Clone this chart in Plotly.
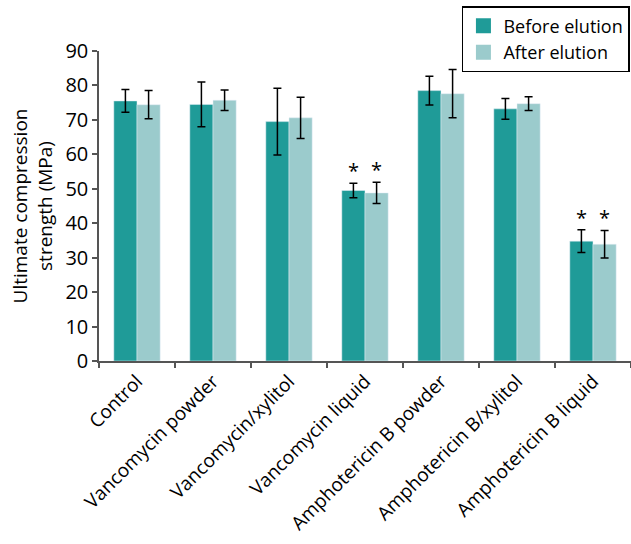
import plotly.graph_objects as go

categories = ["Control", "Vancomycin powder", "Vancomycin/xylitol", "Vancomycin liquid",
              "Amphotericin B powder", "Amphotericin B/xylitol", "Amphotericin B liquid"]
before = [75.5, 74.5, 69.5, 49.5, 78.5, 73.2, 34.8]
before_err = [3.3, 6.5, 9.7, 2.1, 4.2, 3.0, 3.3]
after = [74.4, 75.7, 70.6, 48.8, 77.6, 74.7, 33.9]
after_err = [4.1, 3.0, 6.0, 3.1, 7.0, 2.0, 4.0]
significant = ["Vancomycin liquid", "Amphotericin B liquid"]

FONT = "Open Sans"
C_BEFORE = "#1f9b98"
C_AFTER = "#9bcbcc"

fig = go.Figure()
for name, vals, errs, color in (("Before elution", before, before_err, C_BEFORE),
                                ("After elution", after, after_err, C_AFTER)):
    fig.add_trace(go.Bar(
        x=categories, y=vals, name=name, marker_color=color, showlegend=False,
        error_y=dict(type="data", array=errs, color="black", thickness=1.5, width=4),
    ))
    # square legend swatch
    fig.add_trace(go.Scatter(
        x=[None], y=[None], mode="markers", name=name,
        marker=dict(symbol="square", size=15, color=color),
    ))

# asterisks above the significant groups
for cat in significant:
    i = categories.index(cat)
    for vals, errs, shift in ((before, before_err, -11.5), (after, after_err, 11.5)):
        fig.add_annotation(x=cat, y=vals[i] + errs[i], xshift=shift, yshift=-3,
                           text="*", showarrow=False, yanchor="bottom",
                           font=dict(family=FONT, size=20, color="black"))

fig.update_layout(
    width=631, height=544,
    margin=dict(l=99, r=0, t=51, b=183, autoexpand=False),
    plot_bgcolor="white", paper_bgcolor="white",
    barmode="group", bargap=0.39, bargroupgap=0,
    font=dict(family=FONT, size=19, color="black"),
    showlegend=True,
    legend=dict(x=0.998, y=1.145, xanchor="right", yanchor="top",
                bordercolor="black", borderwidth=1.5,
                font=dict(family=FONT, size=18, color="black"),
                itemwidth=30, tracegroupgap=0),
)
fig.update_xaxes(
    showline=True, linecolor="#555", linewidth=1.5,
    ticks="outside", tickson="boundaries", ticklen=5, tickcolor="#555", tickwidth=1.5,
    tickangle=-45, tickfont=dict(family=FONT, size=19),
)
fig.update_yaxes(
    range=[0, 90], dtick=10, showgrid=False, zeroline=False,
    showline=True, linecolor="#555", linewidth=1.5,
    ticks="outside", ticklen=5, tickcolor="#555", tickwidth=1.5,
    tickfont=dict(family=FONT, size=20),
    title=dict(text="Ultimate compression<br>strength (MPa)", font=dict(family=FONT, size=19), standoff=8),
)

fig.write_html("out.html")
